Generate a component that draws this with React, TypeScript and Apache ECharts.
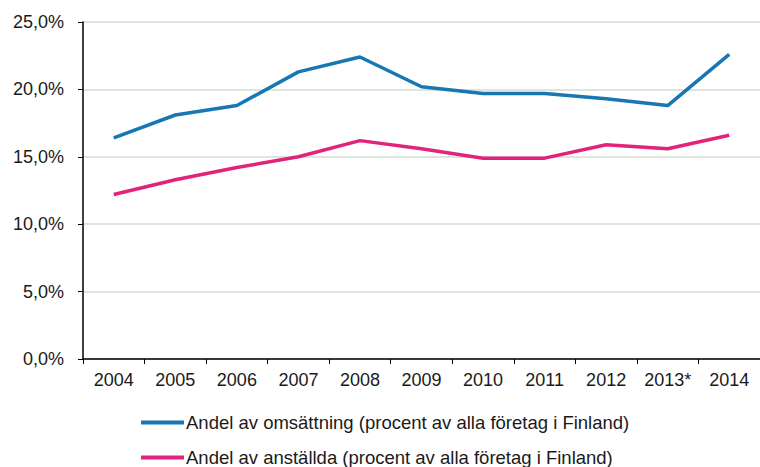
import React, { useEffect, useRef } from "react";
import * as echarts from "echarts";

const categories = ["2004", "2005", "2006", "2007", "2008", "2009", "2010", "2011", "2012", "2013*", "2014"];
const omsattning = [16.4, 18.1, 18.8, 21.3, 22.4, 20.2, 19.7, 19.7, 19.3, 18.8, 22.6];
const anstallda = [12.2, 13.3, 14.2, 15.0, 16.2, 15.6, 14.9, 14.9, 15.9, 15.6, 16.6];
const seriesNames = [
  "Andel av omsättning (procent av alla företag i Finland)",
  "Andel av anställda (procent av alla företag i Finland)",
];
const colors = ["#1677b3", "#e2237c"];

const FONT = "'Liberation Sans', Arial, sans-serif";
const TEXT = "#1a1a1a";

export default function App() {
  const ref = useRef<HTMLDivElement>(null);
  useEffect(() => {
    if (!ref.current) return;
    const chart = echarts.init(ref.current, null, { renderer: "svg" });
    const legendBase = {
      orient: "horizontal",
      left: 141,
      itemWidth: 43,
      itemHeight: 4,
      icon: "rect",
      padding: 0,
      textStyle: { fontFamily: FONT, fontSize: 18.5, color: TEXT, padding: [0, 0, 0, -3], lineHeight: 18 },
    };
    chart.setOption({
      animation: false,
      backgroundColor: "#ffffff",
      grid: { left: 83, right: 0, top: 22, bottom: 108, containLabel: false },
      legend: [
        { ...legendBase, top: 413, data: [seriesNames[0]] },
        { ...legendBase, top: 448, data: [seriesNames[1]] },
      ],
      xAxis: {
        type: "category",
        data: categories,
        boundaryGap: true,
        axisLine: { lineStyle: { color: "#000", width: 1.5 } },
        axisTick: { show: true, length: 5, lineStyle: { color: "#000" } },
        axisLabel: { fontFamily: FONT, fontSize: 18, color: TEXT, margin: 12, interval: 0 },
        splitLine: { show: false },
      },
      yAxis: {
        type: "value",
        min: 0,
        max: 25,
        interval: 5,
        axisLine: { show: true, lineStyle: { color: "#000", width: 1.5 } },
        axisTick: { show: true, length: 5, lineStyle: { color: "#000" } },
        axisLabel: {
          fontFamily: FONT,
          fontSize: 18,
          color: TEXT,
          margin: 19,
          formatter: (v: number) => v.toFixed(1).replace(".", ",") + "%",
        },
        splitLine: { show: true, lineStyle: { color: "#d6dbd3", width: 1.5 } },
      },
      series: [
        {
          name: seriesNames[0],
          type: "line",
          data: omsattning,
          symbol: "none",
          lineStyle: { color: colors[0], width: 3.5 },
          itemStyle: { color: colors[0] },
        },
        {
          name: seriesNames[1],
          type: "line",
          data: anstallda,
          symbol: "none",
          lineStyle: { color: colors[1], width: 3.5 },
          itemStyle: { color: colors[1] },
        },
      ],
    });
    return () => chart.dispose();
  }, []);
  return (
    <div
      ref={ref}
      style={{ position: "fixed", left: 0, top: 0, width: 760, height: 467 }}
    />
  );
}
